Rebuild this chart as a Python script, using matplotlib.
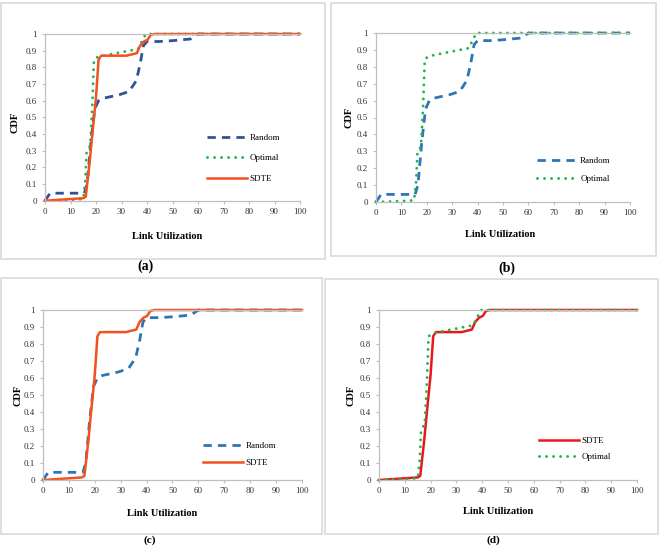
import matplotlib
matplotlib.use('Agg')
import matplotlib.pyplot as plt
from matplotlib.patches import Rectangle

plt.rcParams['font.family'] = ['Liberation Serif', 'DejaVu Serif']

# CDF of link utilization
util_random = [0, 2, 15.4, 16.5, 18, 19.5, 21, 23, 29, 33, 35.8, 37.3, 38.6, 40, 45, 50, 57, 60, 100]
cdf_random = [0, 0.045, 0.045, 0.1, 0.35, 0.55, 0.6, 0.615, 0.635, 0.655, 0.72, 0.82, 0.93, 0.955, 0.955, 0.96, 0.97, 1.0, 1.0]

util_optimal = [0, 10, 15, 15.8, 16.3, 17.7, 18.5, 19.2, 20.5, 23, 28, 33, 36.5, 38.5, 39.5, 100]
cdf_optimal = [0, 0.005, 0.01, 0.12, 0.29, 0.33, 0.55, 0.845, 0.86, 0.87, 0.885, 0.9, 0.91, 0.97, 1.0, 1.0]

util_sdte = [0, 10, 15, 16, 17.5, 18.7, 20, 21, 22, 32, 36, 37.3, 38.8, 40.2, 41.5, 43, 100]
cdf_sdte = [0, 0.01, 0.015, 0.025, 0.23, 0.42, 0.62, 0.845, 0.87, 0.87, 0.885, 0.93, 0.955, 0.965, 0.995, 1.0, 1.0]

x_ticks = list(range(0, 101, 10))
y_ticks = [i / 10 for i in range(11)]
y_tick_labels = ['0', '0.1', '0.2', '0.3', '0.4', '0.5', '0.6', '0.7', '0.8', '0.9', '1']

W, H = 660, 546
fig = plt.figure(figsize=(6.6, 5.46), dpi=100)


def px_axes(x0, x1, y_top, y_bot):
    return fig.add_axes([x0 / W, (H - y_bot) / H, (x1 - x0) / W, (y_bot - y_top) / H])


def px_box(x0, x1, y0, y1):
    fig.patches.append(Rectangle((x0 / W, (H - y1) / H), (x1 - x0) / W, (y1 - y0) / H,
                                 transform=fig.transFigure, fill=False,
                                 edgecolor='#d9d9d9', linewidth=1.2))


def style(ax, xlab_pos, ylab_pos):
    ax.set_xlim(0, 100)
    ax.set_ylim(0, 1)
    ax.set_xticks(x_ticks)
    ax.set_yticks(y_ticks)
    ax.set_yticklabels(y_tick_labels)
    for s in ['left', 'bottom', 'top']:
        ax.spines[s].set_color('#bfbfbf')
        ax.spines[s].set_linewidth(0.9)
    ax.spines['right'].set_visible(False)
    ax.tick_params(axis='both', direction='out', length=2.5, width=0.8, color='#bfbfbf',
                   labelsize=6.5, labelcolor='#333333')
    ax.tick_params(axis='x', pad=2.5)
    ax.tick_params(axis='y', pad=3.5)
    ax.set_xlabel('Link Utilization', fontsize=7.5, fontweight='bold', va='center')
    ax.set_ylabel('CDF', fontsize=7.5, fontweight='bold', va='center')
    ax.xaxis.set_label_coords(*xlab_pos)
    ax.yaxis.set_label_coords(*ylab_pos)


def random_line(ax, color):
    ax.plot(util_random, cdf_random, color=color, lw=2.0, dashes=(3.0, 2.2),
            clip_on=False, label='Random')


def optimal_line(ax):
    ax.plot(util_optimal, cdf_optimal, color='#22b14c', lw=2.1, dashes=(0.01, 2.4),
            dash_capstyle='round', clip_on=False, label='Optimal')


def sdte_line(ax, color):
    ax.plot(util_sdte, cdf_sdte, color=color, lw=1.8, clip_on=False, label='SDTE')


def legend(ax, anchor, spacing):
    ax.legend(loc='center left', bbox_to_anchor=anchor, frameon=False, fontsize=6.5,
              handlelength=4.4, handletextpad=0.35, labelspacing=spacing, borderpad=0,
              borderaxespad=0)


# panel frames
px_box(1, 325, 3, 259)
px_box(331, 656, 3, 256)
px_box(1, 322, 278, 534)
px_box(325, 658, 279, 534)

# (a)
ax = px_axes(45, 300, 34, 200.7)
random_line(ax, '#2f5496')
optimal_line(ax)
sdte_line(ax, '#f4511e')
style(ax, (0.48, -0.212), (-0.118, 0.47))
legend(ax, (0.635, 0.256), 1.35)

# (b)
ax = px_axes(376, 630, 33, 202)
random_line(ax, '#2e75b6')
optimal_line(ax)
style(ax, (0.49, -0.19), (-0.106, 0.5))
legend(ax, (0.635, 0.189), 1.05)

# (c)
ax = px_axes(43, 302, 310, 480)
random_line(ax, '#2e75b6')
sdte_line(ax, '#f4511e')
style(ax, (0.46, -0.2), (-0.097, 0.5))
legend(ax, (0.617, 0.15), 0.95)

# (d)
ax = px_axes(379, 637, 310, 480)
sdte_line(ax, '#e8181e')
optimal_line(ax)
style(ax, (0.46, -0.188), (-0.109, 0.5))
legend(ax, (0.62, 0.182), 0.85)

for lab, x, y, fs in [('(a)', 146, 266, 10), ('(b)', 507, 268, 10),
                      ('(c)', 150, 540, 8), ('(d)', 493, 540, 8)]:
    fig.text(x / W, (H - y) / H, lab, ha='center', va='center', fontsize=fs, fontweight='bold')

fig.savefig('out.png', dpi=100)
